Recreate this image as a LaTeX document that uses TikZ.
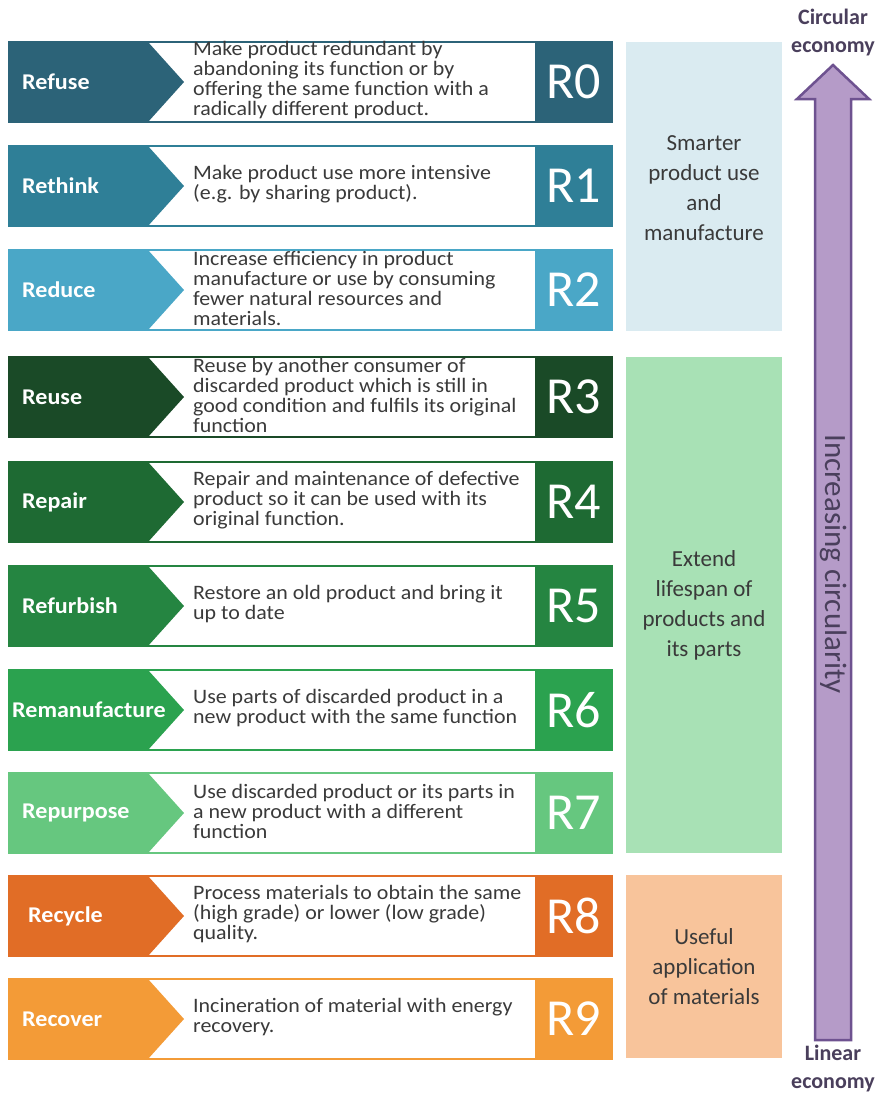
\documentclass[tikz,border=0pt]{standalone}
\usepackage{fontspec}
\setmainfont{Carlito}
\newfontfamily\widefont{Carlito}[FakeStretch=1.07]
\definecolor{c0}{HTML}{2C6378}
\definecolor{c1}{HTML}{2F7F97}
\definecolor{c2}{HTML}{4AA7C7}
\definecolor{c3}{HTML}{1A4A27}
\definecolor{c4}{HTML}{1E6A33}
\definecolor{c5}{HTML}{258541}
\definecolor{c6}{HTML}{2BA24F}
\definecolor{c7}{HTML}{66C77F}
\definecolor{c8}{HTML}{E16D26}
\definecolor{c9}{HTML}{F39B37}
\definecolor{gblue}{HTML}{DAEBF1}
\definecolor{ggreen}{HTML}{A8E1B5}
\definecolor{gorange}{HTML}{F8C49B}
\definecolor{arrfill}{HTML}{B59BC8}
\definecolor{arrdraw}{HTML}{6E5290}
\definecolor{purtext}{HTML}{4A3F5C}
\definecolor{desctext}{HTML}{3A3A3A}
\tikzset{
  lbl/.style={anchor=west, text=white, font=\widefont\fontsize{22.5}{24}\selectfont\bfseries, inner sep=0pt},
  desc/.style={anchor=west, text=desctext, align=left, font=\widefont\fontsize{20.5}{20}\selectfont, inner sep=0pt},
  rlbl/.style={text=white, font=\fontsize{52}{52}\selectfont, inner sep=0pt},
  grouptxt/.style={text=desctext, align=center, font=\fontsize{23}{30}\selectfont, inner sep=0pt},
  endtxt/.style={text=purtext, align=center, font=\fontsize{22}{28}\selectfont\bfseries, inner sep=0pt},
}
\newcommand{\rrow}[7]{% #1 top y, #2 color, #3 label, #4 label x, #5 desc, #6 Rtext, #7 name
  \pgfmathsetmacro{\ytop}{#1}
  \pgfmathsetmacro{\ybot}{#1+80}
  \pgfmathsetmacro{\ymid}{#1+40}
  \draw[#2, line width=1.5pt, fill=white] (9,\ytop) rectangle (612,\ybot);
  \fill[#2] (9,\ytop) -- (148,\ytop) -- (184,\ymid) -- (148,\ybot) -- (9,\ybot) -- cycle;
  \fill[#2] (535,\ytop) rectangle (612,\ybot);
  \node[lbl] (l#7) at (#4,\ymid) {#3};
  \node[desc] (d#7) at (193,\ymid-2) {#5};
  \node[rlbl] (r#7) at (574,\ymid) {#6};
}
\begin{document}
\begin{tikzpicture}[x=1pt,y=-1pt]
\useasboundingbox (0,0) rectangle (880,1093);
\fill[white] (0,0) rectangle (880,1093);

\rrow{42}{c0}{Refuse}{22}{Make product redundant by\\abandoning its function or by\\offering the same function with a\\radically different product.}{R0}{0}
\rrow{146}{c1}{Rethink}{22}{Make product use more intensive\\(e.g. by sharing product).}{R1}{1}
\rrow{250}{c2}{Reduce}{22}{Increase efficiency in product\\manufacture or use by consuming\\fewer natural resources and\\materials.}{R2}{2}
\rrow{357}{c3}{Reuse}{22}{Reuse by another consumer of\\discarded product which is still in\\good condition and fulfils its original\\function}{R3}{3}
\rrow{462}{c4}{Repair}{22}{Repair and maintenance of defective\\product so it can be used with its\\original function.}{R4}{4}
\rrow{566}{c5}{Refurbish}{22}{Restore an old product and bring it\\up to date}{R5}{5}
\rrow{670}{c6}{Remanufacture}{12}{Use parts of discarded product in a\\new product with the same function}{R6}{6}
\rrow{773}{c7}{Repurpose}{22}{Use discarded product or its parts in\\a new product with a different\\function}{R7}{7}
\rrow{876}{c8}{Recycle}{28}{Process materials to obtain the same\\(high grade) or lower (low grade)\\quality.}{R8}{8}
\rrow{979}{c9}{Recover}{22}{Incineration of material with energy\\recovery.}{R9}{9}

% group boxes
\fill[gblue] (626,42) rectangle (782,331);
\node[grouptxt] (g1) at (704,188) {Smarter\\product use\\and\\manufacture};
\fill[ggreen] (626,357) rectangle (782,853);
\node[grouptxt] (g2) at (704,605) {Extend\\lifespan of\\products and\\its parts};
\fill[gorange] (626,875) rectangle (782,1058);
\node[grouptxt] (g3) at (704,967) {Useful\\application\\of materials};

% arrow
\draw[fill=arrfill, draw=arrdraw, line width=2.5pt, line join=miter]
  (815,1040) -- (815,99) -- (797,99) -- (833,65) -- (869,99) -- (851,99) -- (851,1040) -- cycle;
\node[text=purtext, rotate=-90, font=\fontsize{31}{31}\selectfont, inner sep=0pt] (inc) at (834,564) {Increasing circularity};

\node[endtxt] (top) at (833,33) {Circular\\economy};
\node[endtxt] (bot) at (833,1068) {Linear\\economy};
\end{tikzpicture}
\end{document}
